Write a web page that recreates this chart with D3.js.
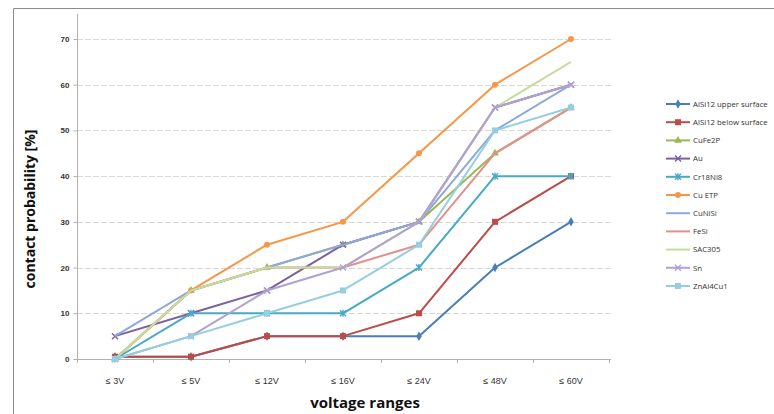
<!DOCTYPE html>
<html>
<head>
<meta charset="utf-8">
<script src="https://cdn.jsdelivr.net/npm/d3@7"></script>
<style>
  body { margin: 0; background: #fff; }
  svg { display: block; font-family: "Open Sans", "DejaVu Sans", sans-serif; }
</style>
</head>
<body>
<div id="chart"></div>
<script>
// categories and values
const categories = ['≤ 3V', '≤ 5V', '≤ 12V', '≤ 16V', '≤ 24V', '≤ 48V', '≤ 60V'];
const yTicks = [0, 10, 20, 30, 40, 50, 60, 70];

const alsi12Upper = [0.5, 0.5, 5, 5, 5, 20, 30];
const alsi12Below = [0.5, 0.5, 5, 5, 10, 30, 40];
const cufe2p = [0, 15, 20, 25, 30, 45, 55];
const au = [5, 10, 15, 25, 30, 55, 60];
const cr18ni8 = [0, 10, 10, 10, 20, 40, 40];
const cuEtp = [0, 15, 25, 30, 45, 60, 70];
const cunisi = [5, 15, 20, 25, 30, 50, 60];
const fesi = [0, 15, 20, 20, 25, 45, 55];
const sac305 = [0, 15, 20, 20, 30, 55, 65];
const sn = [0, 5, 15, 20, 30, 55, 60];
const znal4cu1 = [0, 5, 10, 15, 25, 50, 55];

const series = [
  {name: 'AlSi12 upper surface', values: alsi12Upper, color: '#4a7ebb', marker: 'diamond'},
  {name: 'AlSi12 below surface', values: alsi12Below, color: '#be4b48', marker: 'square'},
  {name: 'CuFe2P', values: cufe2p, color: '#98b954', marker: 'triangle'},
  {name: 'Au', values: au, color: '#7d60a0', marker: 'cross'},
  {name: 'Cr18Ni8', values: cr18ni8, color: '#46aac5', marker: 'star'},
  {name: 'Cu ETP', values: cuEtp, color: '#f79646', marker: 'circle'},
  {name: 'CuNiSi', values: cunisi, color: '#8ea8dc', marker: null},
  {name: 'FeSi', values: fesi, color: '#e0908e', marker: null},
  {name: 'SAC305', values: sac305, color: '#c6dc9c', marker: null},
  {name: 'Sn', values: sn, color: '#b0a2d0', marker: 'cross'},
  {name: 'ZnAl4Cu1', values: znal4cu1, color: '#93cfe0', marker: 'square'}
];

const width = 774;
const height = 414;
const margin = {left: 77, top: 39, right: 121, bottom: 55};

const svg = d3.select('#chart')
  .append('svg')
  .attr('width', width)
  .attr('height', height);

// outer frame (only top and left edges are visible)
svg.append('path')
  .attr('d', `M13.5,${height} V8.5 H${width}`)
  .attr('fill', 'none')
  .attr('stroke', '#8c8c8c')
  .attr('stroke-width', 1);

const x = d3.scaleBand()
  .domain(categories)
  .range([margin.left, width - margin.right - 44]);

const y = d3.scaleLinear()
  .domain([0, 70])
  .range([height - margin.bottom, margin.top]);

const cx = d => x(d) + x.bandwidth() / 2;

// gridlines
svg.append('g')
  .selectAll('line')
  .data(yTicks.slice(1))
  .enter().append('line')
    .attr('x1', margin.left)
    .attr('x2', x.range()[1] + 2)
    .attr('y1', d => Math.round(y(d)) + 0.5)
    .attr('y2', d => Math.round(y(d)) + 0.5)
    .attr('stroke', '#ddd7d2')
    .attr('stroke-width', 1.2)
    .attr('stroke-dasharray', '6,2');

// y axis
const yAxis = svg.append('g')
  .attr('transform', `translate(${margin.left + 0.5},0)`)
  .call(d3.axisLeft(y).tickValues(yTicks).tickSize(4).tickPadding(4));
yAxis.select('.domain').remove();
yAxis.selectAll('.tick line').attr('stroke', '#b5b0ab');
yAxis.selectAll('text')
  .attr('fill', '#333')
  .style('font-size', '8px')
  .style('font-weight', 'bold');

svg.append('line')
  .attr('x1', margin.left + 0.5).attr('x2', margin.left + 0.5)
  .attr('y1', 14).attr('y2', y(0))
  .attr('stroke', '#b5b0ab');

// x axis
const xAxis = svg.append('g')
  .attr('transform', `translate(0,${Math.round(y(0)) + 0.5})`)
  .call(d3.axisBottom(x).tickSize(0).tickPadding(18));
xAxis.select('.domain').attr('stroke', '#b5b0ab').attr('d', `M${margin.left},0H${x.range()[1] + 2}`);
xAxis.selectAll('text')
  .attr('fill', '#333')
  .style('font-size', '9px');

svg.append('g')
  .selectAll('line')
  .data(d3.range(categories.length + 1))
  .enter().append('line')
    .attr('x1', i => margin.left + i * x.bandwidth() + 0.5)
    .attr('x2', i => margin.left + i * x.bandwidth() + 0.5)
    .attr('y1', y(0))
    .attr('y2', y(0) + 4)
    .attr('stroke', '#b5b0ab');

// axis titles
svg.append('text')
  .attr('x', 365)
  .attr('y', 408)
  .attr('text-anchor', 'middle')
  .style('font-size', '15px')
  .style('font-weight', 'bold')
  .attr('fill', '#111')
  .text('voltage ranges');

svg.append('text')
  .attr('transform', 'translate(35,209) rotate(-90)')
  .attr('text-anchor', 'middle')
  .style('font-size', '14px')
  .style('font-weight', 'bold')
  .attr('fill', '#111')
  .text('contact probability [%]');

// markers
function drawMarker(g, type, color, px, py) {
  if (type === 'circle') {
    g.append('circle').attr('cx', px).attr('cy', py).attr('r', 3).attr('fill', color);
  } else if (type === 'square') {
    g.append('rect').attr('x', px - 3).attr('y', py - 3).attr('width', 6).attr('height', 6).attr('fill', color);
  } else if (type === 'diamond') {
    g.append('path').attr('d', d3.symbol(d3.symbolDiamond, 26)()).attr('transform', `translate(${px},${py})`).attr('fill', color);
  } else if (type === 'triangle') {
    g.append('path').attr('d', d3.symbol(d3.symbolTriangle, 26)()).attr('transform', `translate(${px},${py})`).attr('fill', color);
  } else if (type === 'cross') {
    g.append('path').attr('d', `M${px - 3},${py - 3}L${px + 3},${py + 3}M${px - 3},${py + 3}L${px + 3},${py - 3}`)
      .attr('stroke', color).attr('stroke-width', 1.4);
  } else if (type === 'star') {
    g.append('path').attr('d', `M${px - 3},${py - 3}L${px + 3},${py + 3}M${px - 3},${py + 3}L${px + 3},${py - 3}M${px},${py - 3.5}V${py + 3.5}`)
      .attr('stroke', color).attr('stroke-width', 1.4);
  }
}

const line = d3.line()
  .x((d, i) => cx(categories[i]))
  .y(d => y(d));

series.forEach(s => {
  const g = svg.append('g');
  g.append('path')
    .datum(s.values)
    .attr('d', line)
    .attr('fill', 'none')
    .attr('stroke', s.color)
    .attr('stroke-width', 2)
    .attr('stroke-linejoin', 'round');
  if (s.marker) {
    s.values.forEach((v, i) => drawMarker(g, s.marker, s.color, cx(categories[i]), y(v)));
  }
});

// legend
const legend = svg.append('g')
  .attr('transform', 'translate(666,104)');

series.forEach((s, i) => {
  const g = legend.append('g').attr('transform', `translate(0,${i * 18.2})`);
  g.append('line')
    .attr('x1', 0).attr('x2', 24)
    .attr('stroke', s.color)
    .attr('stroke-width', 2);
  if (s.marker) drawMarker(g, s.marker, s.color, 12, 0);
  g.append('text')
    .attr('x', 27)
    .attr('dy', '0.35em')
    .style('font-size', '7.8px')
    .attr('fill', '#333')
    .text(s.name);
});
</script>
</body>
</html>
